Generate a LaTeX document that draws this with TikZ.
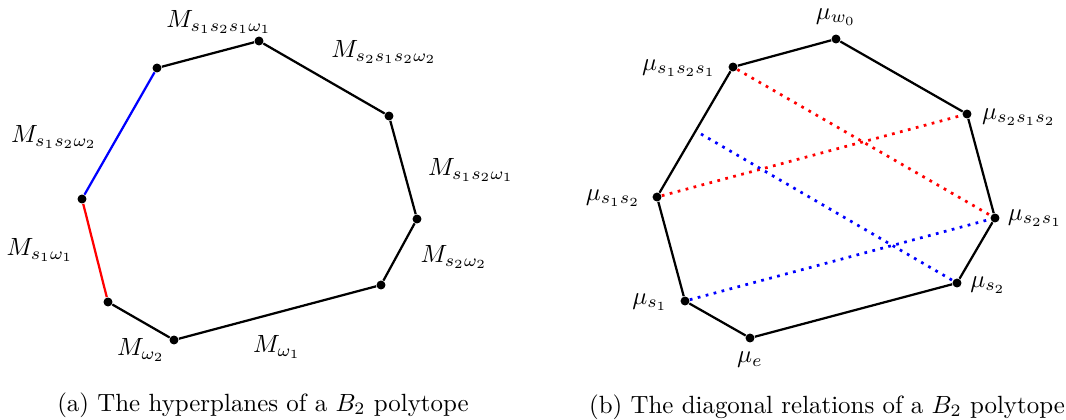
\documentclass[tikz,border=0pt]{standalone}
\begin{document}
\begin{tikzpicture}[x=0.4016pt,y=-0.4016pt,
  vtx/.style={circle,fill=black,inner sep=0pt,minimum size=3.6pt},
  edge/.style={line width=0.9pt},
  diag/.style={line width=1.1pt,dash pattern=on 1.1pt off 2.2pt},
  lbl/.style={inner sep=0pt}]
\useasboundingbox (0,0) rectangle (1066,419);
% left polytope
\node[vtx] (a) at (157,68) {};
\node[vtx] (b) at (259,41) {};
\node[vtx] (c) at (389,116) {};
\node[vtx] (d) at (417,219) {};
\node[vtx] (e) at (381,285) {};
\node[vtx] (f) at (174,340) {};
\node[vtx] (g) at (108,302) {};
\node[vtx] (h) at (82,199) {};
\draw[edge] (a) -- (b) -- (c) -- (d) -- (e) -- (f) -- (g);
\draw[edge,blue] (a) -- (h);
\draw[edge,red] (h) -- (g);
\node[lbl] (la) at (219,22) {$M_{s_1s_2s_1\omega_1}$};
\node[lbl] (lb) at (384,52) {$M_{s_2s_1s_2\omega_2}$};
\node[lbl] (lc) at (54,137) {$M_{s_1s_2\omega_2}$};
\node[lbl] (ld) at (471,170) {$M_{s_1s_2\omega_1}$};
\node[lbl] (le) at (40,250) {$M_{s_1\omega_1}$};
\node[lbl] (lf) at (454,257) {$M_{s_2\omega_2}$};
\node[lbl] (lg) at (141,350) {$M_{\omega_2}$};
\node[lbl] (lh) at (277,347) {$M_{\omega_1}$};
\node[lbl] (capa) at (263,405) {(a) The hyperplanes of a $B_2$ polytope};
% right polytope
\node[vtx] (w0) at (836,39) {};
\node[vtx] (s121) at (733,67) {};
\node[vtx] (s212) at (967,114) {};
\node[vtx] (s21) at (995,218) {};
\node[vtx] (s2) at (957,283) {};
\node[vtx] (ee) at (750,338) {};
\node[vtx] (s1) at (685,301) {};
\node[vtx] (s12) at (657,197) {};
\coordinate (bstart) at (701,134);
\draw[edge] (s121) -- (w0) -- (s212) -- (s21) -- (s2) -- (ee) -- (s1) -- (s12) -- (s121);
\draw[diag,red] (s121) -- (s21);
\draw[diag,red] (s12) -- (s212);
\draw[diag,blue] (bstart) -- (s2);
\draw[diag,blue] (s1) -- (s21);
\node[lbl] (lw0) at (836,17) {$\mu_{w_0}$};
\node[lbl] (ls121) at (679,68) {$\mu_{s_1s_2s_1}$};
\node[lbl] (ls212) at (1019,117) {$\mu_{s_2s_1s_2}$};
\node[lbl] (ls21) at (1035,218) {$\mu_{s_2s_1}$};
\node[lbl] (ls2) at (988,285) {$\mu_{s_2}$};
\node[lbl] (le2) at (750,360) {$\mu_{e}$};
\node[lbl] (ls1) at (650,302) {$\mu_{s_1}$};
\node[lbl] (ls12) at (613,198) {$\mu_{s_1s_2}$};
\node[lbl] (capb) at (827,407) {(b) The diagonal relations of a $B_2$ polytope};
\end{tikzpicture}
\end{document}
